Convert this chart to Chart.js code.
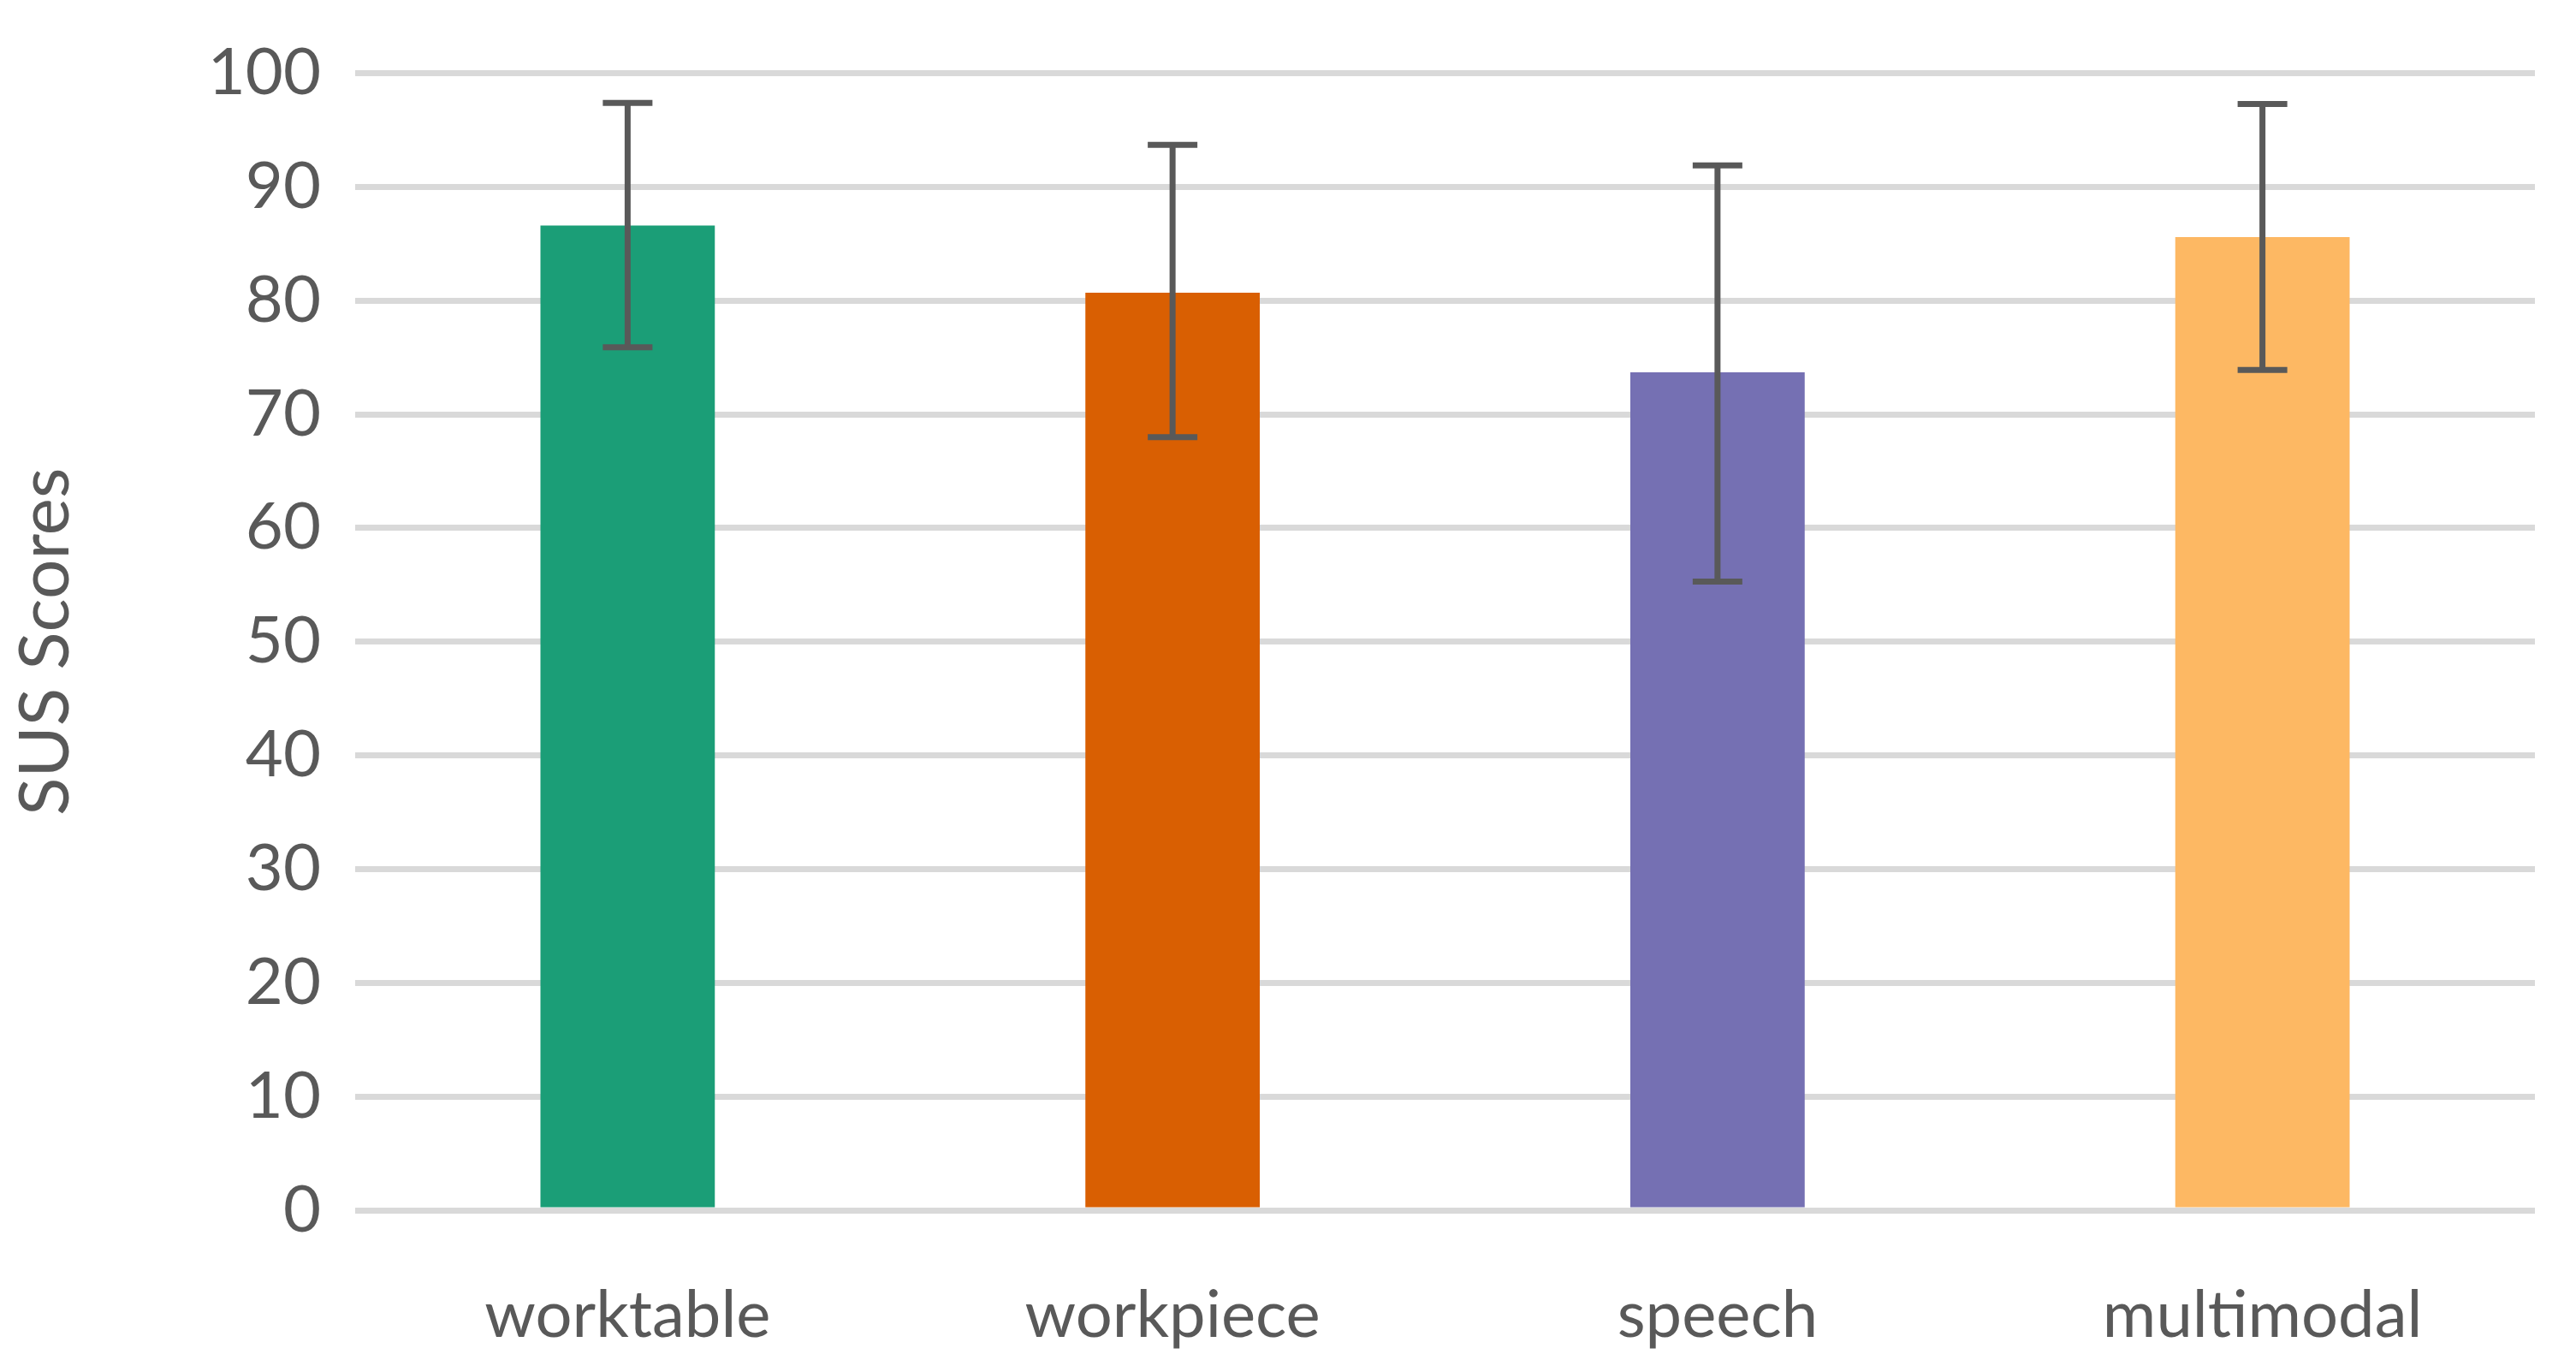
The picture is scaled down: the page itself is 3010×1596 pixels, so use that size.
<!DOCTYPE html>
<html><head><meta charset="utf-8">
<script src="https://cdn.jsdelivr.net/npm/chart.js@4"></script>
<style>html,body{margin:0;padding:0;background:#fff}#w{width:3010px;height:1596px}</style>
</head><body><div id="w"><canvas id="c"></canvas></div>
<script>
const categories = ["worktable","workpiece","speech","multimodal"];
const scores = [86.6, 80.7, 73.7, 85.6];
const errHigh = [97.4, 93.7, 91.9, 97.3];
const errLow = [75.9, 68.0, 55.3, 73.9];
const colors = ["#1b9e77","#d95f02","#7570b3","#fdb863"];
const yTicks = [0,10,20,30,40,50,60,70,80,90,100];

const errPlugin = {
  id:'err',
  afterDatasetsDraw(chart){
    const ctx=chart.ctx, x=chart.scales.x, y=chart.scales.y;
    ctx.save(); ctx.strokeStyle='#595959'; ctx.lineWidth=7; ctx.lineCap='butt';
    categories.forEach((c,i)=>{
      const px=x.getPixelForValue(i), t=y.getPixelForValue(errHigh[i]), b=y.getPixelForValue(errLow[i]);
      ctx.beginPath();
      ctx.moveTo(px,t);ctx.lineTo(px,b);
      ctx.moveTo(px-29,t);ctx.lineTo(px+29,t);
      ctx.moveTo(px-29,b);ctx.lineTo(px+29,b);
      ctx.stroke();
    });
    ctx.restore();
  }
};
new Chart(document.getElementById('c'),{
  type:'bar',
  data:{labels:categories,datasets:[{data:scores,backgroundColor:colors,barPercentage:0.32,categoryPercentage:1}]},
  options:{responsive:true,maintainAspectRatio:false,animation:false,
    layout:{padding:{top:62,right:48,left:0,bottom:0}},
    plugins:{legend:{display:false},tooltip:{enabled:false}},
    scales:{
      x:{grid:{display:false},border:{display:false},
        ticks:{color:'#595959',font:{family:'Lato',size:76},padding:70},
        afterFit(s){s.height=182;}},
      y:{min:0,max:100,afterBuildTicks(s){s.ticks=yTicks.map(v=>({value:v}));},
        grid:{color:'#d9d9d9',lineWidth:7,drawTicks:false},border:{display:false},
        ticks:{color:'#595959',font:{family:'Lato',size:76},padding:40},
        title:{display:true,text:'SUS Scores',color:'#595959',font:{family:'Lato',size:82}},
        afterFit(s){s.width=415;}}
    }
  },
  plugins:[errPlugin]
});
</script></body></html>
